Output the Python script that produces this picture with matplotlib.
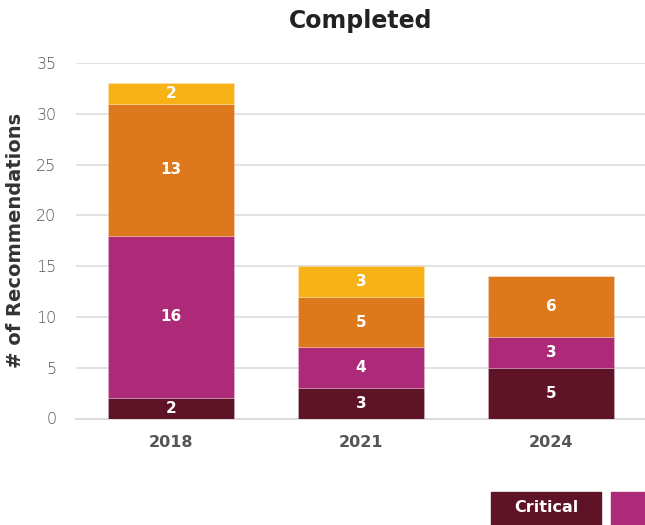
import matplotlib
matplotlib.use("Agg")
import matplotlib.pyplot as plt
from matplotlib.patches import Rectangle
import numpy as np

plt.rcParams['font.family'] = ['DejaVu Sans']

years = ["2018", "2021", "2024"]
series_names = ["Critical", "High", "Medium", "Low"]
critical = [2, 3, 5]
high = [16, 4, 3]
medium = [13, 5, 6]
low = [2, 3, 0]
series_values = [critical, high, medium, low]
colors = ["#5F1326", "#AD2A78", "#DE781C", "#F6B216"]
yticks = [0, 5, 10, 15, 20, 25, 30, 35]

fig = plt.figure(figsize=(6.45, 5.25), dpi=100)
ax = fig.add_axes([76/645, 106.5/525, 570/645, 355.5/525])

x = np.arange(len(years))
bottom = np.zeros(len(years))
for name, vals, c in zip(series_names, series_values, colors):
    vals = np.array(vals, dtype=float)
    ax.bar(x, vals, width=0.667, bottom=bottom, color=c, edgecolor=(1, 1, 1, 0.25),
           linewidth=0.6, label=name, zorder=3)
    for xi, b, v in zip(x, bottom, vals):
        if v > 0:
            ax.text(xi, b + v / 2, f"{int(v)}", ha="center", va="center",
                    color="white", fontsize=11, fontweight="bold", zorder=4)
    bottom += vals

ax.set_xlim(-0.5, 2.5)
ax.set_ylim(0, 35)
ax.set_yticks(yticks)
ax.set_yticklabels([str(t) for t in yticks], color="#555555", fontsize=11.5, fontweight="light")
ax.set_xticks(x)
ax.set_xticklabels(years, color="#555555", fontsize=11.5, fontweight="bold")
ax.tick_params(axis="y", length=0, pad=14)
ax.tick_params(axis="x", length=0, pad=12)
ax.grid(axis="y", color="#DDDDDD", linewidth=1.2, zorder=0)
for s in ["top", "right", "left"]:
    ax.spines[s].set_visible(False)
ax.spines["bottom"].set_color("#DDDDDD")
ax.spines["bottom"].set_linewidth(1.5)
ax.set_ylabel("# of Recommendations", fontsize=14, fontweight="bold", color="#333333", labelpad=8)
fig.text(0.5 + 38/645, 1 - 21/525, "Completed", ha="center", va="center",
         fontsize=17, fontweight="bold", color="#222222")

# legend boxes (bottom right, clipped at figure edge)
fig.patches.append(Rectangle((491/645, 0), 110/645, 33/525, transform=fig.transFigure,
                             color=colors[0], zorder=5))
fig.text(546/645, 17/525, series_names[0], ha="center", va="center", color="white",
         fontsize=11.5, fontweight="bold", zorder=6)
fig.patches.append(Rectangle((611/645, 0), 40/645, 33/525, transform=fig.transFigure,
                             color=colors[1], zorder=5))

fig.savefig("out.png", dpi=100)
